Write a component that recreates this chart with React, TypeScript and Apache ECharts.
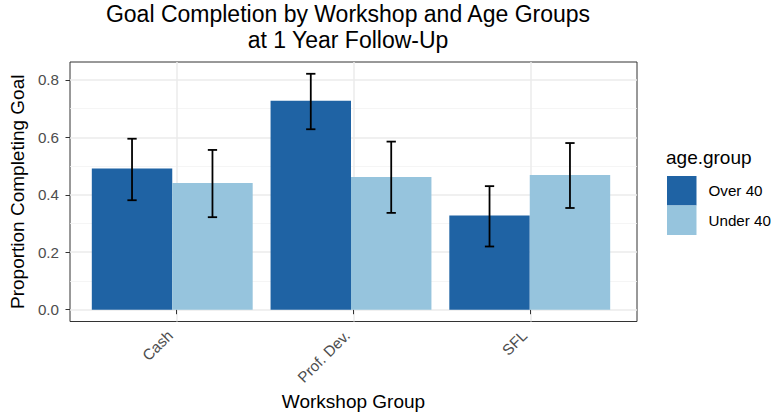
import React, { useEffect, useRef } from "react";
import * as echarts from "echarts";

const categories = ["Cash", "Prof. Dev.", "SFL"];
const seriesNames = ["Over 40", "Under 40"];
const over40 = [0.491, 0.727, 0.328];
const under40 = [0.441, 0.462, 0.469];
const over40Low = [0.381, 0.628, 0.22];
const over40High = [0.595, 0.821, 0.43];
const under40Low = [0.322, 0.337, 0.354];
const under40High = [0.556, 0.585, 0.58];
const yTicks = [0, 0.2, 0.4, 0.6, 0.8];
const yMinorTicks = [0.1, 0.3, 0.5, 0.7];
const xTicks = [1, 2, 3];

const FONT = "'Liberation Sans', Arial, Helvetica, sans-serif";
const DARK = "#1F63A4";
const LIGHT = "#96C4DD";

export default function App() {
  const ref = useRef<HTMLDivElement>(null);
  useEffect(() => {
    document.body.style.margin = "0";
    const chart = echarts.init(ref.current!, null, { renderer: "svg" });
    const panelLeft = 65;
    const panelRight = 637;
    const panelTop = 62;
    const panelBottom = 321.5;
    const panelW = panelRight - panelLeft;
    const unit = panelW / 3.2;
    const yMin = -0.041;
    const yMax = 0.862;

    const errData: number[][] = [];
    categories.forEach((_, i) => {
      errData.push([i, over40Low[i], over40High[i], 0]);
      errData.push([i, under40Low[i], under40High[i], 1]);
    });

    const option: any = {
      animation: false,
      textStyle: { fontFamily: FONT },
      grid: [
        {
          left: panelLeft,
          top: panelTop,
          width: panelW,
          height: panelBottom - panelTop,
          show: true,
          borderColor: "#333333",
          borderWidth: 1,
          backgroundColor: "transparent",
        },
        {
          left: panelLeft + 0.1 * unit,
          top: panelTop,
          width: 3 * unit,
          height: panelBottom - panelTop,
        },
      ],
      xAxis: [
        {
          type: "value",
          gridIndex: 0,
          min: 0.4,
          max: 3.6,
          axisLine: { show: false },
          axisTick: {
            show: true,
            customValues: xTicks,
            length: 4.5,
            lineStyle: { color: "#333333", width: 1 },
          },
          axisLabel: {
            customValues: xTicks,
            rotate: 45,
            margin: 5,
            padding: [0, 9, 0, 0],
            fontSize: 15.2,
            color: "#4D4D4D",
            fontFamily: FONT,
            formatter: (v: number) => categories[Math.round(v) - 1] ?? "",
          },
          splitLine: { show: true, lineStyle: { color: "#EBEBEB", width: 1.5 } },
          name: "Workshop Group",
          nameLocation: "middle",
          nameGap: 69,
          nameTextStyle: { fontSize: 19, color: "#000", fontFamily: FONT },
        },
        {
          type: "category",
          gridIndex: 1,
          data: categories,
          show: false,
        },
      ],
      yAxis: [
        {
          type: "value",
          gridIndex: 0,
          min: yMin,
          max: yMax,
          axisLine: { show: false },
          axisTick: {
            show: true,
            customValues: yTicks,
            length: 4.5,
            lineStyle: { color: "#333333", width: 1 },
          },
          axisLabel: {
            customValues: yTicks,
            margin: 11,
            fontSize: 15.2,
            color: "#4D4D4D",
            fontFamily: FONT,
            formatter: (v: number) => v.toFixed(1),
          },
          splitLine: { show: true, lineStyle: { color: "#EBEBEB", width: 1.5 } },
          name: "Proportion Completing Goal",
          nameLocation: "middle",
          nameGap: 38,
          nameTextStyle: { fontSize: 19, color: "#000", fontFamily: FONT },
        },
        {
          type: "value",
          gridIndex: 0,
          min: yMin,
          max: yMax,
          axisLine: { show: false },
          axisTick: { show: false, customValues: yMinorTicks },
          axisLabel: { show: false, customValues: yMinorTicks },
          splitLine: { show: true, lineStyle: { color: "#F2F2F2", width: 0.8 } },
        },
        {
          type: "value",
          gridIndex: 1,
          min: yMin,
          max: yMax,
          show: false,
          splitLine: { show: false },
        },
      ],
      legend: {
        data: seriesNames,
        orient: "vertical",
        left: 667,
        top: 176,
        padding: 0,
        itemWidth: 29.5,
        itemHeight: 29.5,
        itemGap: 0,
        icon: "rect",
        textStyle: {
          fontSize: 15.2,
          color: "#000",
          fontFamily: FONT,
          padding: [0, 0, 0, 7],
        },
      },
      graphic: [
        {
          type: "text",
          x: 348,
          y: 1,
          style: {
            text: "Goal Completion by Workshop and Age Groups\nat 1 Year Follow-Up",
            textAlign: "center",
            font: `23px ${FONT}`,
            lineHeight: 26,
            fill: "#000",
          },
        },
        {
          type: "text",
          x: 666,
          y: 148,
          style: {
            text: "age.group",
            font: `19px ${FONT}`,
            fill: "#000",
          },
        },
      ],
      series: [
        {
          name: seriesNames[0],
          type: "bar",
          xAxisIndex: 1,
          yAxisIndex: 2,
          data: over40,
          barGap: "0%",
          barCategoryGap: "10%",
          itemStyle: { color: DARK },
        },
        {
          name: seriesNames[1],
          type: "bar",
          xAxisIndex: 1,
          yAxisIndex: 2,
          data: under40,
          barGap: "0%",
          barCategoryGap: "10%",
          itemStyle: { color: LIGHT },
        },
        {
          type: "custom",
          xAxisIndex: 1,
          yAxisIndex: 2,
          data: errData,
          encode: { x: 0, y: [1, 2] },
          z: 10,
          renderItem: (params: any, api: any) => {
            const i = api.value(0);
            const s = api.value(3);
            const band = api.size([1, 0])[0];
            const cx = api.coord([i, 0])[0] + (s === 0 ? -0.225 : 0.225) * band;
            const yl = api.coord([i, api.value(1)])[1];
            const yh = api.coord([i, api.value(2)])[1];
            const hw = 0.026 * band;
            const st = { stroke: "#000", lineWidth: 1.8 };
            return {
              type: "group",
              children: [
                { type: "line", shape: { x1: cx, y1: yl, x2: cx, y2: yh }, style: st },
                { type: "line", shape: { x1: cx - hw, y1: yl, x2: cx + hw, y2: yl }, style: st },
                { type: "line", shape: { x1: cx - hw, y1: yh, x2: cx + hw, y2: yh }, style: st },
              ],
            };
          },
        },
      ],
    };
    chart.setOption(option);
    return () => chart.dispose();
  }, []);
  return <div ref={ref} style={{ width: 773, height: 419 }} />;
}
